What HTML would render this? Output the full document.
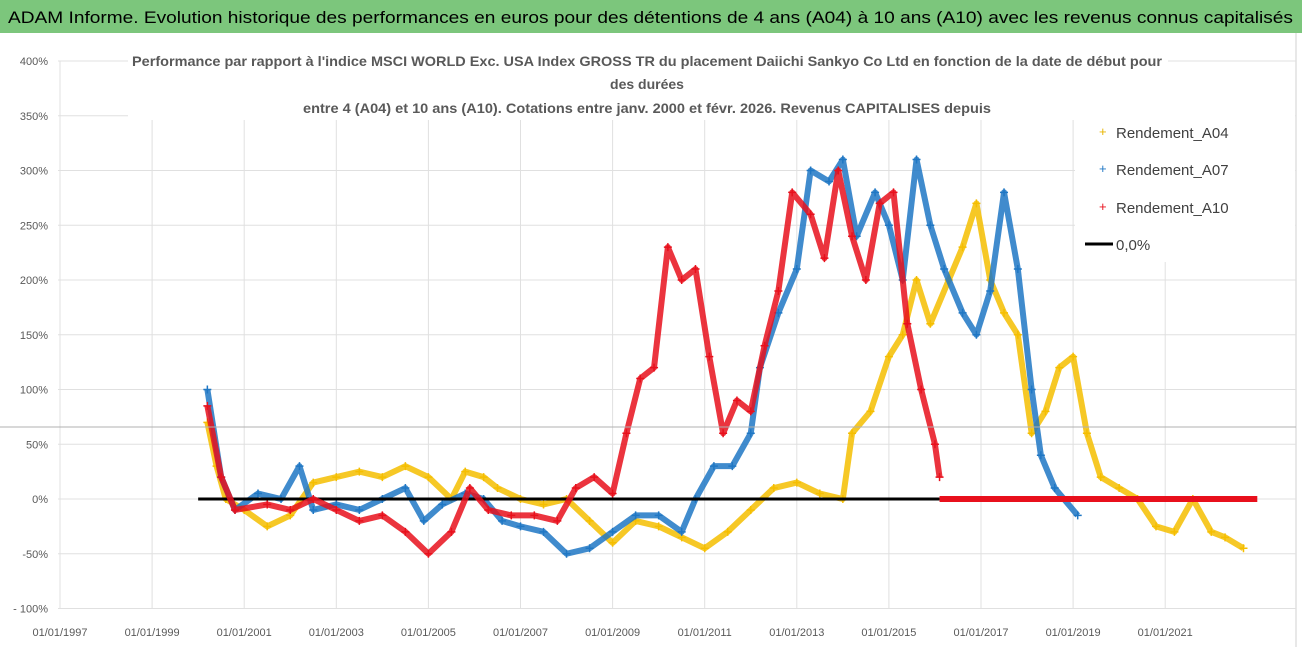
<!DOCTYPE html>
<html><head><meta charset="utf-8"><style>
body{margin:0;background:#fff;}
svg{display:block;font-family:"Liberation Sans",sans-serif;}
</style></head><body>
<svg id="c" width="1302" height="647">
<rect x="0" y="0" width="1302" height="647" fill="#fff"/>
<rect x="0" y="0" width="1302" height="33" fill="#7cc67c"/>
<text x="8" y="23" font-size="17" textLength="1285" lengthAdjust="spacingAndGlyphs" fill="#000">ADAM Informe. Evolution historique des performances en euros pour des détentions de 4 ans (A04) à 10 ans (A10) avec les revenus connus capitalisés</text>
<line x1="1296" y1="33" x2="1296" y2="647" stroke="#d0d0d0"/>
<g id="grid"></g>
<g id="axes"></g>
<g id="series"></g>
<line x1="0" y1="427" x2="1296" y2="427" stroke="#b0b0b0" stroke-width="1"/>
<rect x="128" y="44" width="1040" height="76" fill="#fff"/>
<g font-size="14" font-weight="bold" fill="#595959" text-anchor="middle">
<text x="647" y="66" textLength="1030" lengthAdjust="spacingAndGlyphs">Performance par rapport à l'indice MSCI WORLD Exc. USA Index GROSS TR  du placement Daiichi Sankyo Co Ltd en fonction de la date de début pour</text>
<text x="647" y="89">des durées</text>
<text x="647" y="113" textLength="688" lengthAdjust="spacingAndGlyphs">entre 4 (A04) et 10 ans (A10). Cotations entre janv. 2000 et févr. 2026. Revenus CAPITALISES depuis</text>
</g>
<g>
<rect x="1075" y="115" width="220" height="147" fill="#fff"/>
<text x="1099" y="136" font-size="13" fill="#e8b400">+</text>
<text x="1116" y="138" font-size="15" fill="#404040">Rendement_A04</text>
<text x="1099" y="173" font-size="13" fill="#1f77c4">+</text>
<text x="1116" y="175" font-size="15" fill="#404040">Rendement_A07</text>
<text x="1099" y="211" font-size="13" fill="#e8101c">+</text>
<text x="1116" y="213" font-size="15" fill="#404040">Rendement_A10</text>
<line x1="1085" y1="244" x2="1113" y2="244" stroke="#000" stroke-width="3"/>
<text x="1116" y="250" font-size="15" fill="#404040">0,0%</text>
</g>
</svg>
<script>
const yTicks=[-100,-50,0,50,100,150,200,250,300,350,400];
const yTickLabels=["- 100%","-50%","0%","50%","100%","150%","200%","250%","300%","350%","400%"];
const xTicks=[1997,1999,2001,2003,2005,2007,2009,2011,2013,2015,2017,2019,2021];
const xTickLabels=["01/01/1997","01/01/1999","01/01/2001","01/01/2003","01/01/2005","01/01/2007","01/01/2009","01/01/2011","01/01/2013","01/01/2015","01/01/2017","01/01/2019","01/01/2021"];
const a04Dates=[2000.2,2000.4,2000.6,2001,2001.5,2002,2002.5,2003,2003.5,2004,2004.5,2005,2005.5,2005.8,2006.2,2006.5,2007,2007.5,2008,2008.5,2009,2009.5,2010,2010.5,2011,2011.5,2012,2012.5,2013,2013.5,2014,2014.2,2014.6,2015,2015.3,2015.6,2015.9,2016.3,2016.6,2016.9,2017.2,2017.5,2017.8,2018.1,2018.4,2018.7,2019,2019.3,2019.6,2020,2020.4,2020.8,2021.2,2021.6,2022,2022.3,2022.7];
const a04Values=[70,30,0,-10,-25,-15,15,20,25,20,30,20,0,25,20,10,0,-5,0,-20,-40,-20,-25,-35,-45,-30,-10,10,15,5,0,60,80,130,150,200,160,200,230,270,200,170,150,60,80,120,130,60,20,10,0,-25,-30,0,-30,-35,-45];
const a07Dates=[2000.2,2000.5,2000.8,2001.3,2001.8,2002.2,2002.5,2003,2003.5,2004,2004.5,2004.9,2005.3,2005.8,2006.2,2006.6,2007,2007.5,2008,2008.5,2009,2009.5,2010,2010.5,2010.8,2011.2,2011.6,2012,2012.2,2012.6,2013,2013.3,2013.7,2014,2014.3,2014.7,2015,2015.3,2015.6,2015.9,2016.2,2016.6,2016.9,2017.2,2017.5,2017.8,2018.1,2018.3,2018.6,2019.1];
const a07Values=[100,20,-10,5,0,30,-10,-5,-10,0,10,-20,-5,5,0,-20,-25,-30,-50,-45,-30,-15,-15,-30,0,30,30,60,120,170,210,300,290,310,240,280,250,200,310,250,210,170,150,190,280,210,100,40,10,-15];
const a10Dates=[2000.2,2000.5,2000.8,2001.5,2002,2002.5,2003,2003.5,2004,2004.5,2005,2005.5,2005.9,2006.3,2006.8,2007.3,2007.8,2008.2,2008.6,2009,2009.3,2009.6,2009.9,2010.2,2010.5,2010.8,2011.1,2011.4,2011.7,2012,2012.3,2012.6,2012.9,2013.3,2013.6,2013.9,2014.2,2014.5,2014.8,2015.1,2015.4,2015.7,2016.0,2016.1];
const a10Values=[85,20,-10,-5,-10,0,-10,-20,-15,-30,-50,-30,10,-10,-15,-15,-20,10,20,5,60,110,120,230,200,210,130,60,90,80,140,190,280,260,220,300,240,200,270,280,160,100,50,20];
const zeroStart=2000, zeroEnd=2016.1, redZeroEnd=2023;

const NS="http://www.w3.org/2000/svg";
const X=y=>60+(y-1997)*46.05;
const Y=v=>499-v*1.095;
function mk(tag,attrs,parent){const e=document.createElementNS(NS,tag);for(const k in attrs)e.setAttribute(k,attrs[k]);parent.appendChild(e);return e;}
const grid=document.getElementById('grid'),axes=document.getElementById('axes'),ser=document.getElementById('series');
yTicks.forEach((t,i)=>{
  const l=mk('line',{x1:58,x2:1296,y1:Y(t),y2:Y(t),stroke:'#e0e0e0'},grid);
  
  
  const tx=mk('text',{x:48,y:Y(t)+4,'font-size':11,fill:'#595959','text-anchor':'end'},axes);
  tx.textContent=yTickLabels[i];
  
  
});
xTicks.forEach((t,i)=>{
  const l=mk('line',{x1:X(t),x2:X(t),y1:Y(-100),y2:Y(400),stroke:'#e0e0e0'},grid);
  
  
  const tx=mk('text',{x:X(t),y:636,'font-size':11,fill:'#595959','text-anchor':'middle'},axes);
  tx.textContent=xTickLabels[i];
  
  
});
function series(dates,vals,color,name){
  const g=mk('g',{},ser);
  
  
  mk('polyline',{points:dates.map((d,i)=>X(d)+','+Y(vals[i])).join(' '),fill:'none',stroke:color,'stroke-width':6,'stroke-linejoin':'round','stroke-opacity':0.85},g);
  dates.forEach((d,i)=>{
    const x=X(d),y=Y(vals[i]);
    const p=mk('path',{d:`M${x-4},${y}H${x+4}M${x},${y-4}V${y+4}`,stroke:color,'stroke-width':1.5},g);
    
    
  });
}
series(a04Dates,a04Values,'#f5be00','series-a04');
series(a07Dates,a07Values,'#1f77c4','series-a07');
const z=mk('line',{x1:X(zeroStart),x2:X(zeroEnd),y1:Y(0),y2:Y(0),stroke:'#000','stroke-width':3},ser);


series(a10Dates,a10Values,'#e8101c','series-a10');
const rz=mk('line',{x1:X(zeroEnd),x2:X(redZeroEnd),y1:Y(0),y2:Y(0),stroke:'#e8101c','stroke-width':6},ser);


</script>
</body></html>
